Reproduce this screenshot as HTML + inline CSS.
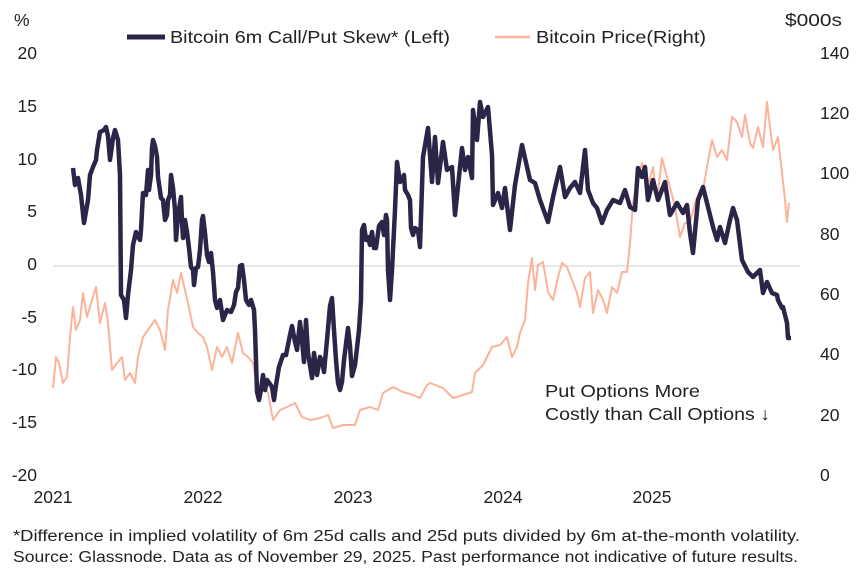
<!DOCTYPE html>
<html><head><meta charset="utf-8"><style>
body{margin:0;background:#fff;}
svg text{font-family:"Liberation Sans",sans-serif;fill:#222;}
</style></head><body>
<svg width="860" height="573" viewBox="0 0 860 573" xmlns="http://www.w3.org/2000/svg">
<line x1="53" y1="266" x2="800" y2="266" stroke="#d0d0d0" stroke-width="1"/>
<g font-size="17.5">
<text x="14" y="26">%</text>
<text x="785" y="26" textLength="57" lengthAdjust="spacingAndGlyphs">$000s</text>
<g text-anchor="end">
<text x="37" y="59">20</text><text x="37" y="112">15</text><text x="37" y="165">10</text>
<text x="37" y="217">5</text><text x="37" y="270">0</text><text x="37" y="323">-5</text>
<text x="37" y="375">-10</text><text x="37" y="428">-15</text><text x="37" y="481">-20</text>
</g>
<text x="820" y="59">140</text><text x="820" y="119">120</text><text x="820" y="179">100</text>
<text x="820" y="240">80</text><text x="820" y="300">60</text><text x="820" y="360">40</text>
<text x="820" y="421">20</text><text x="820" y="481">0</text>
<g text-anchor="middle">
<text x="53" y="503">2021</text><text x="203" y="503">2022</text><text x="353" y="503">2023</text>
<text x="503" y="503">2024</text><text x="652" y="503">2025</text>
</g>
<line x1="127" y1="37" x2="165" y2="37" stroke="#2c2548" stroke-width="5"/>
<text x="170" y="43" textLength="280" lengthAdjust="spacingAndGlyphs">Bitcoin 6m Call/Put Skew* (Left)</text>
<line x1="495" y1="37" x2="530" y2="37" stroke="#fbb49a" stroke-width="2.5"/>
<text x="536" y="43" textLength="170" lengthAdjust="spacingAndGlyphs">Bitcoin Price(Right)</text>
<text x="545" y="397" textLength="155" lengthAdjust="spacingAndGlyphs">Put Options More</text>
<text x="545" y="420" textLength="225" lengthAdjust="spacingAndGlyphs">Costly than Call Options ↓</text>
</g>
<g font-size="15.5">
<text x="13" y="541" textLength="787" lengthAdjust="spacingAndGlyphs">*Difference in implied volatility of 6m 25d  calls and 25d  puts divided by 6m at-the-month volatility.</text>
<text x="13" y="562" textLength="785" lengthAdjust="spacingAndGlyphs">Source: Glassnode. Data as of November 29, 2025. Past performance not indicative of future results.</text>
</g>
<polyline fill="none" stroke="#fbb49a" stroke-width="2" stroke-linejoin="round" points="53,388 56,357 59,363 63,383 67,377 70,337 73,307 76,330 80,320 83,293 87,317 92,300 96,287 100,323 105,303 108,323 112,370 117,363 122,357 125,380 130,373 135,383 138,357 143,337 148,330 155,320 160,330 165,350 168,310 173,280 177,293 181,273 185,290 188,303 193,327 198,333 203,337 207,347 212,370 217,347 222,357 227,347 232,363 238,333 243,353 248,357 253,363 257,387 263,383 268,393 273,420 280,410 287,407 295,403 302,417 310,420 320,418 328,415 333,428 343,425 355,425 360,410 370,407 378,410 383,393 393,387 403,392 413,395 420,398 427,385 430,383 443,388 453,398 463,395 472,392 475,373 483,365 492,347 500,345 507,337 512,357 517,347 520,333 525,320 528,283 532,258 535,290 538,265 543,262 548,292 553,300 558,277 562,263 567,267 572,280 577,293 580,307 585,278 590,272 593,313 598,290 603,300 607,313 612,287 617,293 622,272 627,272 630,243 633,203 637,180 642,163 647,190 653,167 657,200 662,158 667,177 670,187 675,207 680,237 685,223 690,223 695,203 700,190 703,190 707,167 712,140 717,157 722,150 727,160 732,117 737,122 742,137 745,115 750,143 753,148 758,127 763,147 767,102 770,127 773,150 778,137 782,173 785,200 787,222 789,203"/>
<polyline fill="none" stroke="#2c2548" stroke-width="4.5" stroke-linejoin="round" points="73,168 75,185 78,178 81,195 84,223 88,200 90,175 93,167 96,160 97,150 100,132 104,130 106,127 108,136 110,160 113,138 115,130 118,140 120,175 121,295 124,300 126,318 128,295 131,270 133,245 136,232 138,237 140,240 141,230 143,193 146,195 148,170 149,190 151,175 152,148 153,140 155,146 157,157 158,177 161,198 163,200 165,220 167,215 168,200 170,195 171,175 173,188 175,210 176,240 178,215 181,197 182,222 183,238 185,220 187,232 189,248 191,267 193,270 194,285 196,268 198,267 200,250 202,220 203,216 205,233 207,255 209,262 211,253 213,272 215,300 217,308 220,300 223,320 227,310 231,312 234,305 236,292 238,288 240,266 242,265 244,280 246,300 249,305 251,300 254,310 255,330 257,392 259,400 261,390 263,375 265,390 267,380 270,384 272,387 274,400 276,385 279,367 283,355 286,355 290,335 292,326 295,342 297,350 300,322 302,340 304,362 306,320 308,353 312,378 314,353 317,375 320,357 322,361 324,372 327,340 330,306 332,298 334,330 336,360 338,383 340,390 342,382 344,360 346,344 348,328 350,346 352,376 355,365 357,348 359,330 361,300 362,230 364,225 366,240 368,237 370,245 372,232 374,248 376,248 379,226 382,222 384,235 386,215 387,220 388,270 390,300 392,270 395,210 397,162 400,182 402,180 404,175 405,190 408,195 410,200 411,228 413,235 415,228 418,230 420,247 423,157 428,128 432,182 435,137 438,183 443,142 447,170 452,167 455,215 462,148 465,170 468,157 472,178 473,110 477,140 480,102 483,117 488,107 492,155 493,205 498,193 502,208 505,188 510,230 515,185 522,145 527,167 530,180 535,183 540,200 548,222 553,197 560,167 565,197 570,188 575,182 580,193 585,150 588,190 593,203 597,208 602,223 607,210 613,200 620,203 625,190 630,207 635,210 638,168 642,177 645,167 648,200 653,180 658,200 665,182 670,215 677,203 683,213 687,205 690,233 693,253 698,200 703,187 708,207 713,227 717,240 720,227 725,243 730,220 733,208 737,220 742,260 748,272 753,277 760,270 763,293 767,282 772,293 777,295 778,300 782,308 783,307 787,323 788,338 791,338"/>
</svg>
</body></html>
